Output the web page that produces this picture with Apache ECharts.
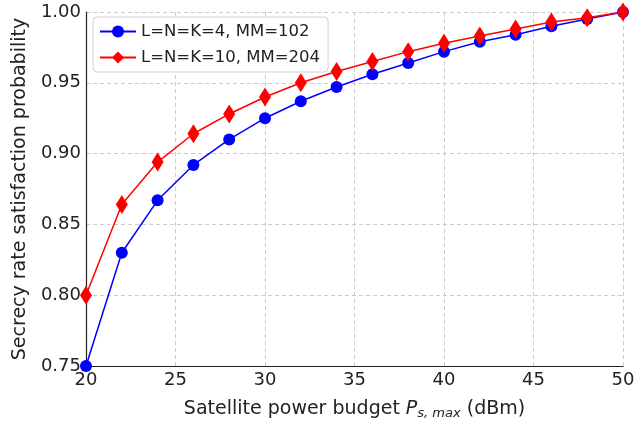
<!DOCTYPE html>
<html>
<head>
    <meta charset="utf-8">
    <title>index</title>
    <style>
        body { margin: 0; background: #fff; }
    </style>
</head>
<body>
    <div id="main" style="width: 639px;height:425px;"></div>
    <script src="https://cdn.jsdelivr.net/npm/echarts@6/dist/echarts.min.js"></script>
    <script>
        // 数据
        var power = [20, 22, 24, 26, 28, 30, 32, 34, 36, 38, 40, 42, 44, 46, 48, 50];
        var probSmall = [0.750, 0.830, 0.867, 0.892, 0.910, 0.925, 0.937, 0.947, 0.956, 0.964, 0.972, 0.979, 0.984, 0.990, 0.995, 1.000];
        var probLarge = [0.800, 0.864, 0.894, 0.914, 0.928, 0.940, 0.950, 0.958, 0.965, 0.972, 0.978, 0.983, 0.988, 0.993, 0.996, 1.000];
        var seriesNames = ['L=N=K=4, MM=102', 'L=N=K=10, MM=204'];

        function pairs(ys) {
            return power.map(function (x, i) { return [x, ys[i]]; });
        }

        var font = 'DejaVu Sans';
        var myChart = echarts.init(document.getElementById('main'));
        var option = {
            backgroundColor: '#fff',
            animation: false,
            textStyle: { fontFamily: font },
            grid: { left: 86, right: 16, top: 12, bottom: 57 },
            legend: {
                left: 93, top: 17,
                orient: 'vertical',
                backgroundColor: '#fff',
                borderColor: '#d0d0d0',
                borderWidth: 1,
                borderRadius: 4,
                padding: [6, 8, 6, 6],
                itemGap: 9,
                itemWidth: 36,
                itemHeight: 15,
                textStyle: { fontFamily: font, fontSize: 16.5, color: '#222' },
                data: seriesNames
            },
            xAxis: {
                type: 'value',
                min: 20, max: 50, interval: 5,
                name: '{n|Satellite power budget }{i|P}{s|s, max}{n| (dBm)}',
                nameLocation: 'middle',
                nameGap: 32,
                nameTextStyle: {
                    rich: {
                        n: { fontFamily: font, fontSize: 19, color: '#222' },
                        i: { fontFamily: font, fontSize: 19, fontStyle: 'italic', color: '#222' },
                        s: { fontFamily: font, fontSize: 13, fontStyle: 'italic', color: '#222', padding: [9, 0, 0, 0] }
                    }
                },
                axisLine: { lineStyle: { color: '#222', width: 1.2 } },
                axisTick: { show: false },
                axisLabel: { fontFamily: font, fontSize: 18, color: '#222', margin: 5 },
                splitLine: { show: true, lineStyle: { color: '#ccc', type: [4, 3] } }
            },
            yAxis: {
                type: 'value',
                min: 0.75, max: 1.0, interval: 0.05,
                name: 'Secrecy rate satisfaction probability',
                nameLocation: 'middle',
                nameGap: 55,
                nameTextStyle: { fontFamily: font, fontSize: 19, color: '#222' },
                axisLine: { show: true, lineStyle: { color: '#222', width: 1.2 } },
                axisTick: { show: false },
                axisLabel: {
                    fontFamily: font, fontSize: 18, color: '#222', margin: 5,
                    formatter: function (v) { return v.toFixed(2); }
                },
                splitLine: { show: true, lineStyle: { color: '#ccc', type: [4, 3] } }
            },
            series: [
                {
                    name: seriesNames[0],
                    type: 'line',
                    data: pairs(probSmall),
                    symbol: 'circle',
                    symbolSize: 12,
                    showAllSymbol: true,
                    clip: false,
                    itemStyle: { color: '#0000ff' },
                    lineStyle: { color: '#0000ff', width: 1.5 }
                },
                {
                    name: seriesNames[1],
                    type: 'line',
                    data: pairs(probLarge),
                    symbol: 'diamond',
                    symbolSize: [12, 19],
                    showAllSymbol: true,
                    clip: false,
                    itemStyle: { color: '#ff0000' },
                    lineStyle: { color: '#ff0000', width: 1.5 }
                }
            ]
        };
        myChart.setOption(option);
    </script>
</body>
</html>
